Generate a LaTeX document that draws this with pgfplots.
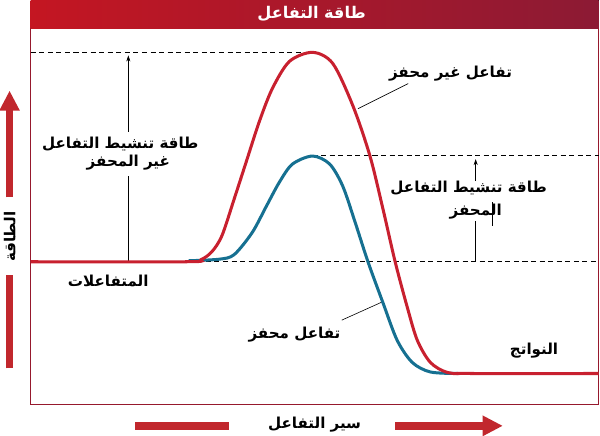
\documentclass[border=0pt]{standalone}
\usepackage{pgfplots}
\pgfplotsset{compat=1.18}
\usepackage{fontspec}
\usetikzlibrary{arrows.meta}
\TeXXeTstate=1
\newfontfamily\arabicfont[Script=Arabic]{DejaVu Sans}
\definecolor{arrred}{RGB}{193,39,45}
\definecolor{curvered}{RGB}{200,32,47}
\definecolor{curveblue}{RGB}{22,112,145}
\definecolor{boxred}{RGB}{150,25,45}
\definecolor{headL}{RGB}{196,22,34}
\definecolor{headR}{RGB}{140,26,52}
\newcommand{\ar}[1]{{\arabicfont\bfseries\beginR #1\endR}}
\tikzset{lab/.style={font=\fontsize{15}{17}\selectfont,inner sep=0pt}}
\begin{document}
\begin{tikzpicture}
\begin{axis}[width=600pt,height=438pt,scale only axis,
  xmin=0,xmax=600,ymin=0,ymax=438,y dir=reverse,
  hide axis,clip=false]
% header
\fill[left color=headL,right color=headR] (axis cs:33,2) rectangle (axis cs:597,30);
\node[text=white,font=\fontsize{16}{18}\selectfont] at (axis cs:312,16) {\ar{طاقة التفاعل}};
% box
\draw[boxred,line width=1.5pt] (axis cs:33,30) -- (axis cs:33,404) -- (axis cs:597,404) -- (axis cs:597,30);
% dashed lines
\tikzset{dsh/.style={black,line width=0.8pt,dash pattern=on 5pt off 3.5pt}}
\draw[dsh] (axis cs:33,54) -- (axis cs:313,54);
\draw[dsh] (axis cs:313,156) -- (axis cs:597,156);
\draw[dsh] (axis cs:190,262) -- (axis cs:597,262);
% activation arrows
\draw[black,line width=0.6pt,-{Stealth[length=6pt,width=4pt]}] (axis cs:130,133) -- (axis cs:130,57);
\draw[black,line width=0.6pt] (axis cs:130,177) -- (axis cs:130,262);
\draw[black,line width=0.6pt,-{Stealth[length=6pt,width=4pt]}] (axis cs:475,182) -- (axis cs:475,160);
\draw[black,line width=0.6pt] (axis cs:475,222) -- (axis cs:475,262);
\draw[black,line width=0.6pt] (axis cs:492,203) -- (axis cs:492,226);
% leader lines
\draw[black,line width=0.6pt] (axis cs:408,85) -- (axis cs:358,110);
\draw[black,line width=0.6pt] (axis cs:382,302) -- (axis cs:342,320);
% blue curve (catalysed)
\addplot[curveblue,line width=3pt,smooth] coordinates {
(190,261) (220,259.5) (235,255) (253,233) (267,207) (280,183) (293,165)
(313,157) (330,165) (343,187) (355,222) (368,262)
(383,303) (397,340) (412,362) (430,371.5) (457,373)};
% red curve (uncatalysed)
\addplot[curvered,line width=3pt,smooth] coordinates {
(33,262) (188,262) (202,260) (213,252) (223,236) (235,200) (247,163) (260,123)
(273,90) (290,63) (313,54) (333,65) (353,107)
(370,157) (383,210) (395,262) (407,307) (417,340) (430,362) (447,372) (470,373) (597,373)};
% labels
\node[lab] at (axis cs:450,75) {\ar{تفاعل غير محفز}};
\node[lab] at (axis cs:295,334) {\ar{تفاعل محفز}};
\node[lab] at (axis cs:533,350) {\ar{النواتج}};
\node[lab] at (axis cs:110,281) {\ar{المتفاعلات}};
\node[lab] at (axis cs:122,145) {\ar{طاقة تنشيط التفاعل}};
\node[lab] at (axis cs:130,164) {\ar{غير المحفز}};
\node[lab] at (axis cs:468,189) {\ar{طاقة تنشيط التفاعل}};
\node[lab] at (axis cs:475,212) {\ar{المحفز}};
% axis arrows
\draw[arrred,line width=7.5pt] (axis cs:12,368) -- (axis cs:12,275);
\draw[arrred,line width=7.5pt,-{Triangle[length=20pt,width=19pt]}] (axis cs:12,198) -- (axis cs:12,92);
\node[lab,rotate=90] at (axis cs:12,237) {\ar{الطاقة}};
\draw[arrred,line width=7.5pt] (axis cs:137,425) -- (axis cs:230,425);
\draw[arrred,line width=7.5pt,-{Triangle[length=20pt,width=19pt]}] (axis cs:395,425) -- (axis cs:502,425);
\node[lab] at (axis cs:315,424) {\ar{سير التفاعل}};
\end{axis}
\end{tikzpicture}
\end{document}
